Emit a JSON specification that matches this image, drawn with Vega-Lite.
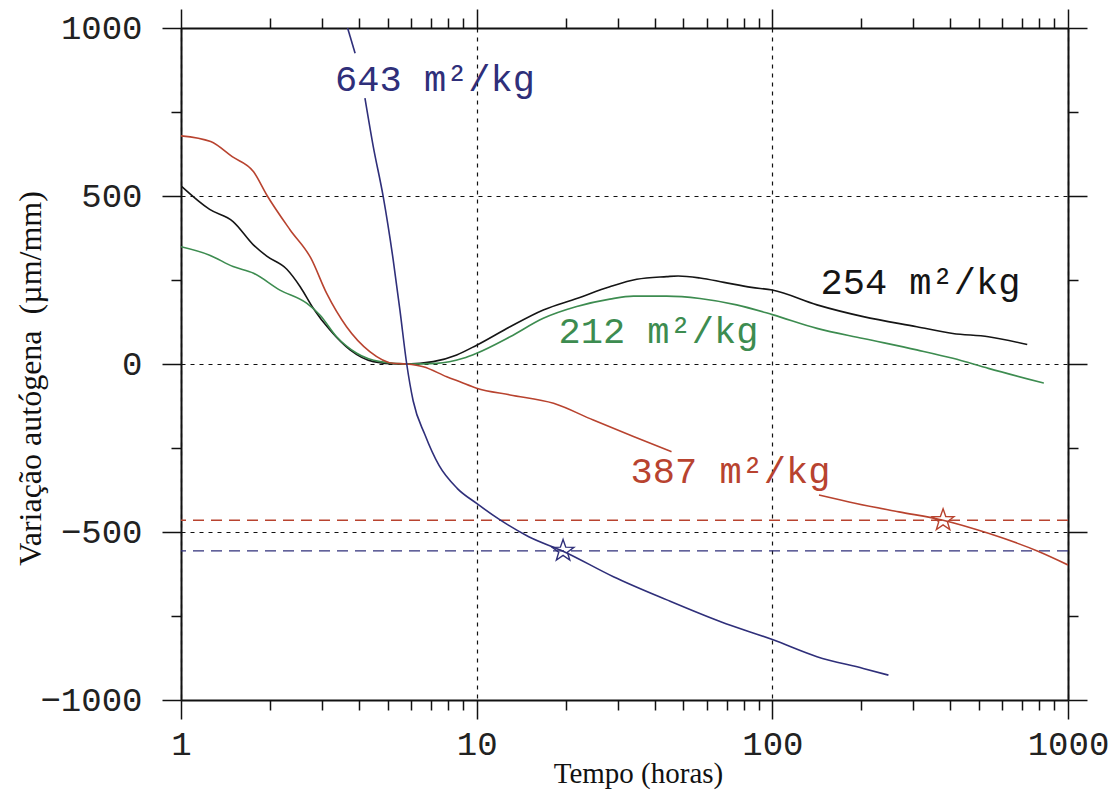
{
  "$schema": "https://vega.github.io/schema/vega-lite/v6.json",
  "width": 887,
  "height": 672,
  "autosize": {"type": "none"},
  "padding": {"left": 181, "top": 28, "right": 50, "bottom": 96},
  "background": "white",
  "config": {"view": {"stroke": null}},
  "datasets": {
    "curves": [
      {"series":"254","seg":"254","t":1,"v":530},{"series":"254","seg":"254","t":1.25,"v":460},{"series":"254","seg":"254","t":1.5,"v":424},{"series":"254","seg":"254","t":1.76,"v":354},{"series":"254","seg":"254","t":1.95,"v":321},{"series":"254","seg":"254","t":2.28,"v":282},{"series":"254","seg":"254","t":2.53,"v":230},{"series":"254","seg":"254","t":2.8,"v":166},{"series":"254","seg":"254","t":3.19,"v":101},{"series":"254","seg":"254","t":3.73,"v":42},{"series":"254","seg":"254","t":4.47,"v":7},{"series":"254","seg":"254","t":5.36,"v":0},{"series":"254","seg":"254","t":5.8,"v":0},{"series":"254","seg":"254","t":7.13,"v":7},{"series":"254","seg":"254","t":8.56,"v":27},{"series":"254","seg":"254","t":10,"v":56},{"series":"254","seg":"254","t":12.97,"v":111},{"series":"254","seg":"254","t":16.8,"v":161},{"series":"254","seg":"254","t":21.8,"v":195},{"series":"254","seg":"254","t":28.2,"v":230},{"series":"254","seg":"254","t":34.8,"v":252},{"series":"254","seg":"254","t":43.9,"v":260},{"series":"254","seg":"254","t":48,"v":262},{"series":"254","seg":"254","t":56.9,"v":256},{"series":"254","seg":"254","t":68.6,"v":243},{"series":"254","seg":"254","t":85,"v":228},{"series":"254","seg":"254","t":100,"v":220},{"series":"254","seg":"254","t":141.6,"v":176},{"series":"254","seg":"254","t":203,"v":141},{"series":"254","seg":"254","t":308,"v":111},{"series":"254","seg":"254","t":408,"v":91},{"series":"254","seg":"254","t":538,"v":81},{"series":"254","seg":"254","t":728,"v":58},
      {"series":"212","seg":"212","t":1,"v":349},{"series":"212","seg":"212","t":1.25,"v":324},{"series":"212","seg":"212","t":1.5,"v":290},{"series":"212","seg":"212","t":1.76,"v":270},{"series":"212","seg":"212","t":2.16,"v":220},{"series":"212","seg":"212","t":2.66,"v":181},{"series":"212","seg":"212","t":2.95,"v":146},{"series":"212","seg":"212","t":3.36,"v":81},{"series":"212","seg":"212","t":3.93,"v":32},{"series":"212","seg":"212","t":4.71,"v":7},{"series":"212","seg":"212","t":5.8,"v":0},{"series":"212","seg":"212","t":7.32,"v":2},{"series":"212","seg":"212","t":9,"v":17},{"series":"212","seg":"212","t":10,"v":32},{"series":"212","seg":"212","t":12.97,"v":81},{"series":"212","seg":"212","t":16.8,"v":136},{"series":"212","seg":"212","t":21.8,"v":171},{"series":"212","seg":"212","t":28.2,"v":193},{"series":"212","seg":"212","t":33.9,"v":202},{"series":"212","seg":"212","t":43.9,"v":202},{"series":"212","seg":"212","t":56.9,"v":195},{"series":"212","seg":"212","t":75.7,"v":176},{"series":"212","seg":"212","t":100,"v":147},{"series":"212","seg":"212","t":141.6,"v":106},{"series":"212","seg":"212","t":203,"v":76},{"series":"212","seg":"212","t":308,"v":42},{"series":"212","seg":"212","t":408,"v":17},{"series":"212","seg":"212","t":538,"v":-13},{"series":"212","seg":"212","t":828,"v":-57},
      {"series":"387","seg":"387a","t":1,"v":679},{"series":"387","seg":"387a","t":1.26,"v":662},{"series":"387","seg":"387a","t":1.49,"v":617},{"series":"387","seg":"387a","t":1.76,"v":572},{"series":"387","seg":"387a","t":1.95,"v":503},{"series":"387","seg":"387a","t":2.34,"v":399},{"series":"387","seg":"387a","t":2.75,"v":315},{"series":"387","seg":"387a","t":3.11,"v":210},{"series":"387","seg":"387a","t":3.63,"v":111},{"series":"387","seg":"387a","t":4.35,"v":37},{"series":"387","seg":"387a","t":5.22,"v":2},{"series":"387","seg":"387a","t":5.8,"v":0},{"series":"387","seg":"387a","t":6.6,"v":-8},{"series":"387","seg":"387a","t":7.92,"v":-38},{"series":"387","seg":"387a","t":8.78,"v":-53},{"series":"387","seg":"387a","t":10,"v":-72},{"series":"387","seg":"387a","t":12.97,"v":-92},{"series":"387","seg":"387a","t":18.2,"v":-117},{"series":"387","seg":"387a","t":24.8,"v":-167},{"series":"387","seg":"387a","t":33.9,"v":-216},{"series":"387","seg":"387a","t":45.6,"v":-261},
      {"series":"387","seg":"387b","t":143.8,"v":-390},{"series":"387","seg":"387b","t":192,"v":-415},{"series":"387","seg":"387b","t":268,"v":-440},{"series":"387","seg":"387b","t":378,"v":-465},{"series":"387","seg":"387b","t":538,"v":-504},{"series":"387","seg":"387b","t":795,"v":-558},{"series":"387","seg":"387b","t":1000,"v":-598},
      {"series":"643","seg":"643a","t":3.66,"v":1000},{"series":"643","seg":"643a","t":3.88,"v":925},
      {"series":"643","seg":"643b","t":4.19,"v":791},{"series":"643","seg":"643b","t":4.47,"v":647},{"series":"643","seg":"643b","t":4.83,"v":498},{"series":"643","seg":"643b","t":5.22,"v":310},{"series":"643","seg":"643b","t":5.5,"v":161},{"series":"643","seg":"643b","t":5.8,"v":0},{"series":"643","seg":"643b","t":6.1,"v":-110},{"series":"643","seg":"643b","t":6.68,"v":-210},{"series":"643","seg":"643b","t":7.46,"v":-302},{"series":"643","seg":"643b","t":8.59,"v":-370},{"series":"643","seg":"643b","t":10,"v":-415},{"series":"643","seg":"643b","t":12,"v":-464},{"series":"643","seg":"643b","t":15,"v":-514},{"series":"643","seg":"643b","t":19.6,"v":-557},{"series":"643","seg":"643b","t":29,"v":-633},{"series":"643","seg":"643b","t":44,"v":-702},{"series":"643","seg":"643b","t":66.9,"v":-767},{"series":"643","seg":"643b","t":100.6,"v":-821},{"series":"643","seg":"643b","t":141.6,"v":-871},{"series":"643","seg":"643b","t":203,"v":-906},{"series":"643","seg":"643b","t":247,"v":-926}
    ],
    "stars": [
      {"series":"643","t":19.6,"v":-556},
      {"series":"387","t":378,"v":-465}
    ],
    "refs": [
      {"series":"387","v":-465},
      {"series":"643","v":-556}
    ],
    "labels": [
      {"series":"643","t":7.23,"v":846,"label":"643 m²/kg"},
      {"series":"254","t":317,"v":242,"label":"254 m²/kg"},
      {"series":"212","t":41.2,"v":94,"label":"212 m²/kg"},
      {"series":"387","t":72.2,"v":-321,"label":"387 m²/kg"}
    ]
  },
  "resolve": {"axis": {"x": "independent", "y": "independent"}},
  "layer": [
    {
      "data": {"name": "refs"},
      "mark": {"type": "rule", "strokeDash": [11, 7], "strokeWidth": 1.3},
      "encoding": {
        "y": {"field": "v", "type": "quantitative", "scale": {"domain": [-1000, 1000], "nice": false, "zero": false}, "axis": null},
        "color": {"field": "series", "type": "nominal", "legend": null,
          "scale": {"domain": ["254", "212", "387", "643"], "range": ["#151515", "#3d8c50", "#b8432f", "#2f2f7a"]}}
      }
    },
    {
      "data": {"name": "curves"},
      "mark": {"type": "line", "strokeWidth": 1.6, "interpolate": "monotone", "clip": true},
      "encoding": {
        "x": {"field": "t", "type": "quantitative",
          "scale": {"type": "log", "domain": [1, 1000], "nice": false},
          "axis": {"orient": "bottom", "values": [1, 10, 100, 1000], "format": "d",
            "tickSize": 19, "tickWidth": 1.5, "tickColor": "#111",
            "domain": true, "domainWidth": 2, "domainColor": "#111",
            "labelFont": "Liberation Mono", "labelFontSize": 34, "labelColor": "#222",
            "labelPadding": 8, "labelFlush": false, "labelOverlap": false,
            "grid": true, "gridDash": [4, 5], "gridColor": "#111", "gridWidth": 1.2,
            "title": "Tempo (horas)", "titleFont": "Liberation Serif", "titleFontSize": 29,
            "titleFontWeight": "normal", "titleColor": "#111",
            "titleX": 457, "titleY": 82, "titleBaseline": "alphabetic"}},
        "y": {"field": "v", "type": "quantitative",
          "scale": {"domain": [-1000, 1000], "nice": false, "zero": false},
          "axis": {"orient": "left", "values": [-1000, -500, 0, 500, 1000], "format": "d",
            "tickSize": 19, "tickWidth": 1.5, "tickColor": "#111",
            "domain": true, "domainWidth": 2, "domainColor": "#111",
            "labelFont": "Liberation Mono", "labelFontSize": 34, "labelColor": "#222",
            "labelPadding": 20, "labelOverlap": false, "labelFlush": false,
            "grid": true, "gridDash": [4, 5], "gridColor": "#111", "gridWidth": 1.2,
            "title": "Variação autógena\u00a0 (µm/mm)", "titleFont": "Liberation Serif", "titleFontSize": 32,
            "titleFontWeight": "normal", "titleColor": "#111",
            "titleX": -141, "titleY": 350, "titleBaseline": "alphabetic"}},
        "color": {"field": "series", "type": "nominal", "legend": null},
        "detail": {"field": "seg"}
      }
    },
    {
      "data": {"name": "stars"},
      "mark": {"type": "point", "filled": false, "strokeWidth": 1.4, "opacity": 1,
        "shape": "M0,-1L0.235,-0.324L0.951,-0.309L0.38,0.124L0.588,0.809L0,0.4L-0.588,0.809L-0.38,0.124L-0.951,-0.309L-0.235,-0.324Z",
        "size": 520},
      "encoding": {
        "x": {"field": "t", "type": "quantitative",
          "scale": {"type": "log", "domain": [1, 1000], "nice": false},
          "axis": {"orient": "bottom", "values": [2,3,4,5,6,7,8,9,20,30,40,50,60,70,80,90,200,300,400,500,600,700,800,900],
            "tickSize": 10, "tickWidth": 1.5, "tickColor": "#111", "labels": false, "domain": false, "grid": false, "title": null}},
        "y": {"field": "v", "type": "quantitative",
          "scale": {"domain": [-1000, 1000], "nice": false, "zero": false},
          "axis": {"orient": "left", "values": [-750, -250, 250, 750],
            "tickSize": 10, "tickWidth": 1.5, "tickColor": "#111", "labels": false, "domain": false, "grid": false, "title": null}},
        "color": {"field": "series", "type": "nominal", "legend": null}
      }
    },
    {
      "data": {"name": "labels"},
      "mark": {"type": "text", "font": "Liberation Mono", "fontSize": 37, "align": "center", "baseline": "middle"},
      "encoding": {
        "x": {"field": "t", "type": "quantitative",
          "scale": {"type": "log", "domain": [1, 1000], "nice": false},
          "axis": {"orient": "top", "values": [1, 10, 100, 1000],
            "tickSize": 19, "tickWidth": 1.5, "tickColor": "#111", "labels": false,
            "domain": true, "domainWidth": 2, "domainColor": "#111", "grid": false, "title": null}},
        "y": {"field": "v", "type": "quantitative",
          "scale": {"domain": [-1000, 1000], "nice": false, "zero": false},
          "axis": {"orient": "right", "values": [-1000, -500, 0, 500, 1000],
            "tickSize": 19, "tickWidth": 1.5, "tickColor": "#111", "labels": false,
            "domain": true, "domainWidth": 2, "domainColor": "#111", "grid": false, "title": null}},
        "text": {"field": "label"},
        "color": {"field": "series", "type": "nominal", "legend": null}
      }
    },
    {
      "data": {"name": "stars"},
      "mark": {"type": "point", "opacity": 0},
      "encoding": {
        "x": {"field": "t", "type": "quantitative",
          "scale": {"type": "log", "domain": [1, 1000], "nice": false},
          "axis": {"orient": "top", "values": [2,3,4,5,6,7,8,9,20,30,40,50,60,70,80,90,200,300,400,500,600,700,800,900],
            "tickSize": 10, "tickWidth": 1.5, "tickColor": "#111", "labels": false, "domain": false, "grid": false, "title": null}},
        "y": {"field": "v", "type": "quantitative",
          "scale": {"domain": [-1000, 1000], "nice": false, "zero": false},
          "axis": {"orient": "right", "values": [-750, -250, 250, 750],
            "tickSize": 10, "tickWidth": 1.5, "tickColor": "#111", "labels": false, "domain": false, "grid": false, "title": null}}
      }
    }
  ]
}
